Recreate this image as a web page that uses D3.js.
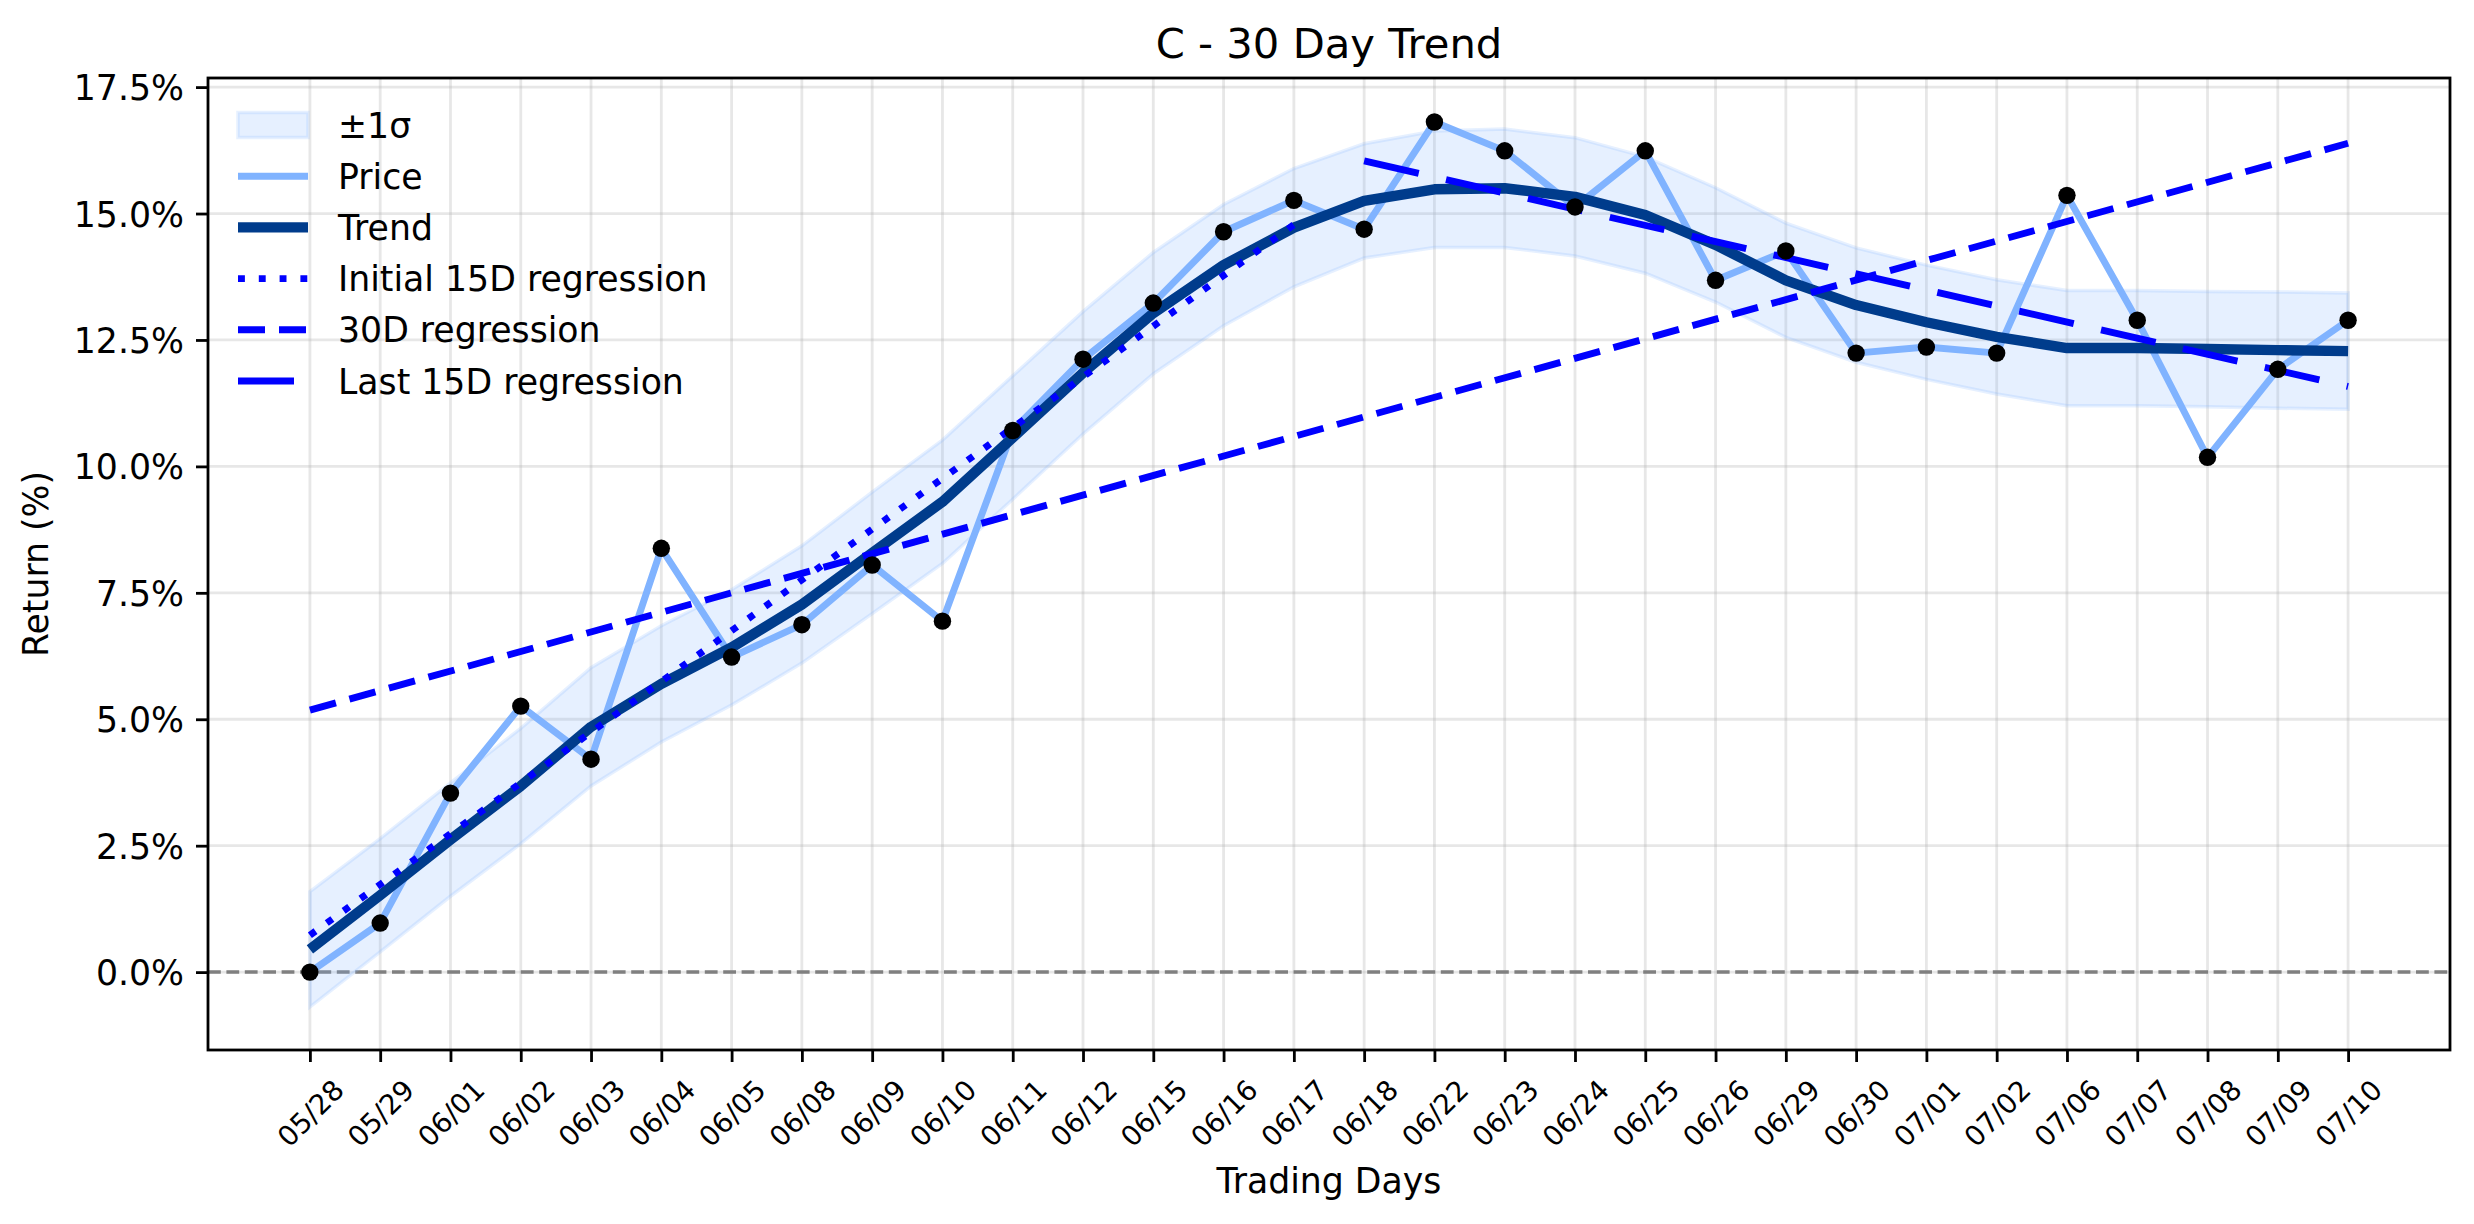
<!DOCTYPE html>
<html>
<head>
<meta charset="utf-8">
<script src="https://cdn.jsdelivr.net/npm/d3@7"></script>
<style>
  body { margin: 0; background: #fff; }
  svg { display: block; font-family: "DejaVu Sans", sans-serif; }
</style>
</head>
<body>
<div id="chart"></div>
<script>
// trading days on the x axis
var days = ["05/28","05/29","06/01","06/02","06/03","06/04","06/05","06/08","06/09","06/10",
            "06/11","06/12","06/15","06/16","06/17","06/18","06/22","06/23","06/24","06/25",
            "06/26","06/29","06/30","07/01","07/02","07/06","07/07","07/08","07/09","07/10"];

// cumulative return (%)
var price = [0.00, 0.97, 3.54, 5.26, 4.21, 8.38, 6.23, 6.87, 8.05, 6.94,
             10.71, 12.12, 13.23, 14.64, 15.26, 14.69, 16.81, 16.24, 15.13, 16.24,
             13.68, 14.26, 12.24, 12.36, 12.24, 15.36, 12.89, 10.18, 11.92, 12.89];

// smoothed trend (%)
var trend = [0.45, 1.52, 2.62, 3.68, 4.85, 5.70, 6.42, 7.27, 8.29, 9.30,
             10.57, 11.85, 13.03, 13.98, 14.72, 15.25, 15.48, 15.50, 15.33, 14.97,
             14.38, 13.68, 13.19, 12.85, 12.56, 12.34, 12.34, 12.32, 12.30, 12.28];

// one standard deviation around the trend
var sigma = [1.14, 1.12, 1.12, 1.14, 1.17, 1.15, 1.14, 1.16, 1.20, 1.22,
             1.22, 1.21, 1.20, 1.20, 1.17, 1.13, 1.15, 1.17, 1.17, 1.15,
             1.13, 1.13, 1.13, 1.13, 1.13, 1.14, 1.14, 1.14, 1.15, 1.15];

// regression lines: [start index, end index], [start value, end value]
var regInitialIdx = [0, 14],  regInitialVal = [0.73, 14.78];
var reg30Idx      = [0, 29],  reg30Val      = [5.18, 16.39];
var regLastIdx    = [15, 29], regLastVal    = [16.04, 11.58];

var yTicks = [0, 2.5, 5, 7.5, 10, 12.5, 15, 17.5];

var W = 2474, H = 1224;
var margin = { top: 78, right: 24, bottom: 174, left: 208 };
var w = W - margin.left - margin.right,
    h = H - margin.top - margin.bottom;

var priceColor = "#80b3ff", trendColor = "#003c8c", regColor = "#0000ff";

var svg = d3.select("#chart").append("svg").attr("width", W).attr("height", H);
svg.append("rect").attr("width", W).attr("height", H).attr("fill", "#fff");
var g = svg.append("g").attr("transform", "translate(" + margin.left + "," + margin.top + ")");

var x = d3.scaleLinear().domain([-1.45, days.length - 1 + 1.45]).range([0, w]);
var y = d3.scaleLinear().domain([-1.54, 17.68]).range([h, 0]);

// grid
g.append("g").selectAll("line").data(d3.range(days.length)).enter()
    .append("line")
    .attr("x1", function(d) { return x(d); }).attr("x2", function(d) { return x(d); })
    .attr("y1", 0).attr("y2", h)
    .attr("stroke", "#b0b0b0").attr("stroke-opacity", 0.3).attr("stroke-width", 2.8);
g.append("g").selectAll("line").data(yTicks).enter()
    .append("line")
    .attr("y1", function(d) { return y(d); }).attr("y2", function(d) { return y(d); })
    .attr("x1", 0).attr("x2", w)
    .attr("stroke", "#b0b0b0").attr("stroke-opacity", 0.3).attr("stroke-width", 2.8);

// zero line
g.append("line")
    .attr("x1", 0).attr("x2", w).attr("y1", y(0)).attr("y2", y(0))
    .attr("stroke", "#808080").attr("stroke-width", 3.5)
    .attr("stroke-dasharray", "12.8,5.6");

// ±1σ band
var area = d3.area()
    .x(function(d, i) { return x(i); })
    .y0(function(d, i) { return y(trend[i] - sigma[i]); })
    .y1(function(d, i) { return y(trend[i] + sigma[i]); });
g.append("path").datum(trend)
    .attr("d", area)
    .attr("fill", priceColor).attr("fill-opacity", 0.2)
    .attr("stroke", priceColor).attr("stroke-opacity", 0.2).attr("stroke-width", 3.5);

var line = d3.line()
    .x(function(d, i) { return x(i); })
    .y(function(d) { return y(d); });

g.append("path").datum(price)
    .attr("d", line).attr("fill", "none")
    .attr("stroke", priceColor).attr("stroke-width", 6.9).attr("stroke-linejoin", "round");

g.append("path").datum(trend)
    .attr("d", line).attr("fill", "none")
    .attr("stroke", trendColor).attr("stroke-width", 10.4).attr("stroke-linejoin", "round");

// regressions
function regLine(idx, val, dash) {
    g.append("line")
        .attr("x1", x(idx[0])).attr("y1", y(val[0]))
        .attr("x2", x(idx[1])).attr("y2", y(val[1]))
        .attr("stroke", regColor).attr("stroke-width", 6.9)
        .attr("stroke-dasharray", dash);
}
regLine(regInitialIdx, regInitialVal, "6.9,13.9");
regLine(reg30Idx, reg30Val, "27,14");
regLine(regLastIdx, regLastVal, "56,28");

// price markers
g.append("g").selectAll("circle").data(price).enter()
    .append("circle")
    .attr("cx", function(d, i) { return x(i); })
    .attr("cy", function(d) { return y(d); })
    .attr("r", 8.7)
    .attr("fill", "#000");

// axes
var yAxis = g.append("g")
    .call(d3.axisLeft(y).tickValues(yTicks).tickSize(12).tickPadding(12)
        .tickFormat(function(d) { return d3.format(".1f")(d) + "%"; }));
var xAxis = g.append("g").attr("transform", "translate(0," + h + ")")
    .call(d3.axisBottom(x).tickValues(d3.range(days.length)).tickSize(12)
        .tickFormat(function(d) { return days[d]; }));
[yAxis, xAxis].forEach(function(a) {
    a.select(".domain").remove();
    a.selectAll(".tick line").attr("stroke", "#000").attr("stroke-width", 2.8);
    a.selectAll("text").attr("fill", "#000").attr("font-family", "DejaVu Sans");
});
yAxis.selectAll("text").attr("font-size", 34.7).attr("dy", "0.36em");
xAxis.selectAll("text")
    .attr("font-size", 27.8)
    .attr("y", 0).attr("dy", "0.36em")
    .attr("text-anchor", "middle")
    .attr("transform", "translate(0,63) rotate(-45)");

// frame
g.append("rect").attr("width", w).attr("height", h)
    .attr("fill", "none").attr("stroke", "#000").attr("stroke-width", 2.8);

// labels
svg.append("text").attr("x", margin.left + w / 2).attr("y", 58)
    .attr("text-anchor", "middle").attr("font-size", 41.7).text("C - 30 Day Trend");
svg.append("text").attr("x", margin.left + w / 2).attr("y", 1193)
    .attr("text-anchor", "middle").attr("font-size", 34.7).text("Trading Days");
svg.append("text").attr("transform", "translate(48," + (margin.top + h / 2) + ") rotate(-90)")
    .attr("text-anchor", "middle").attr("font-size", 34.7).text("Return (%)");

// legend
var legendItems = [
    { label: "±1σ", kind: "patch" },
    { label: "Price", color: priceColor, width: 6.9, dash: null },
    { label: "Trend", color: trendColor, width: 10.4, dash: null },
    { label: "Initial 15D regression", color: regColor, width: 6.9, dash: "6.9,13.9" },
    { label: "30D regression", color: regColor, width: 6.9, dash: "27,14" },
    { label: "Last 15D regression", color: regColor, width: 6.9, dash: "56,28" }
];
var lg = svg.append("g").attr("transform", "translate(238,125)");
var row = lg.selectAll("g").data(legendItems).enter()
    .append("g").attr("transform", function(d, i) { return "translate(0," + (i * 51.2) + ")"; });
row.each(function(d) {
    var r = d3.select(this);
    if (d.kind === "patch") {
        r.append("rect").attr("x", 0).attr("y", -12.5).attr("width", 70).attr("height", 25)
            .attr("fill", priceColor).attr("fill-opacity", 0.2)
            .attr("stroke", priceColor).attr("stroke-opacity", 0.2).attr("stroke-width", 3.5);
    } else {
        r.append("line").attr("x1", 0).attr("x2", 70).attr("y1", 0).attr("y2", 0)
            .attr("stroke", d.color).attr("stroke-width", d.width)
            .attr("stroke-dasharray", d.dash);
    }
    r.append("text").attr("x", 100).attr("y", 12.5)
        .attr("font-size", 34.7).text(d.label);
});
</script>
</body>
</html>
